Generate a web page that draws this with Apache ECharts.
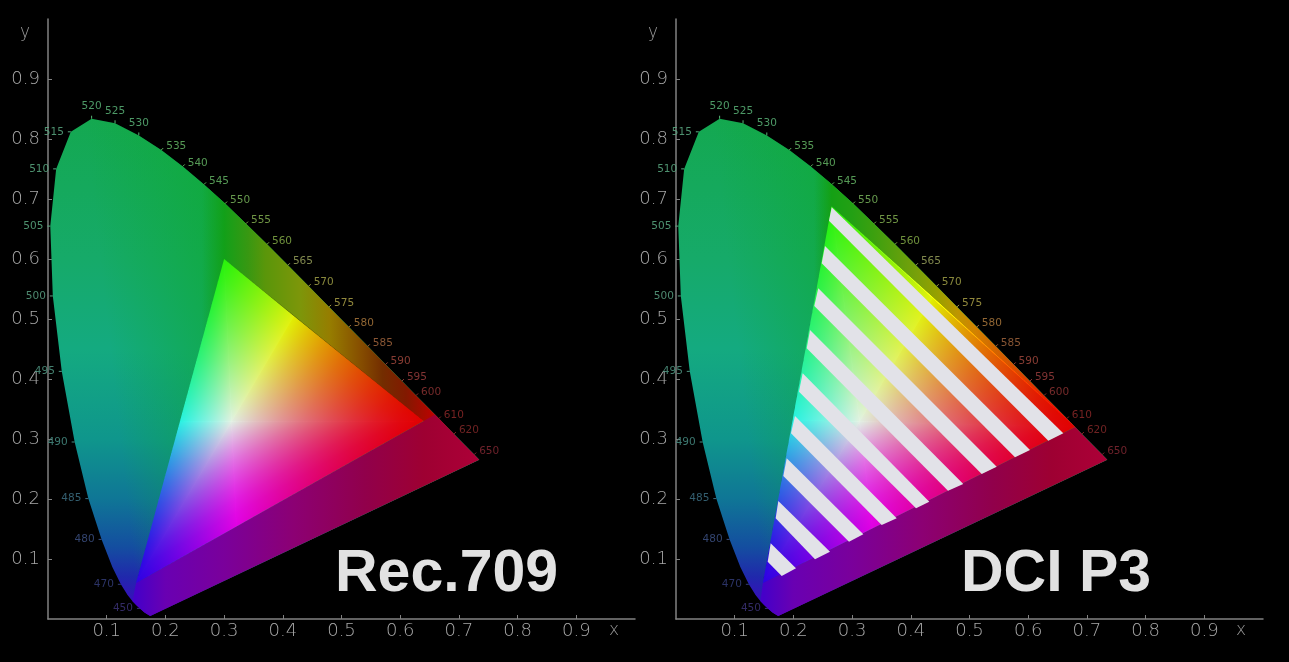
<!DOCTYPE html>
<html><head><meta charset="utf-8">
<style>html,body{margin:0;padding:0;background:#000}#c{width:1289px;height:662px}</style>
<script src="https://cdn.jsdelivr.net/npm/echarts@6/dist/echarts.min.js"></script>
</head><body><div id="c"></div>
<script>
// ---- spectral locus
const locusNm=[440,450,455,460,465,470,475,480,485,490,495,500,505,510,515,520,525,530,535,540,545,550,555,560,565,570,575,580,585,590,595,600,605,610,615,620,650,700];
const locusX=[.1644,.1566,.1510,.1440,.1355,.1241,.1096,.0913,.0687,.0454,.0235,.0082,.0039,.0139,.0389,.0743,.1142,.1547,.1929,.2296,.2658,.3016,.3373,.3731,.4087,.4441,.4788,.5125,.5448,.5752,.6029,.6270,.6482,.6658,.6801,.6915,.7260,.7347];
const locusY=[.0109,.0177,.0227,.0297,.0399,.0578,.0868,.1327,.2007,.2950,.4127,.5384,.6548,.7502,.8120,.8338,.8262,.8059,.7816,.7543,.7243,.6923,.6589,.6245,.5896,.5547,.5202,.4866,.4544,.4242,.3965,.3725,.3516,.3340,.3197,.3083,.2740,.2653];
const purpleEnd=[.1741,.0050];
const labeledNm=[450,470,480,485,490,495,500,505,510,515,520,525,530,535,540,545,550,555,560,565,570,575,580,585,590,595,600,610,620,650];
const labelColors=['#3c3278','#323c78','#3c5082','#3c6e82','#468c82','#509682','#5aa082','#5aaa82','#5aaa82','#5aaa82','#5ab478','#5ab478','#5ab478','#64b464','#64b464','#64b464','#78b45a','#82af50','#82aa46','#96a05a','#a0a046','#aaa046','#aa783c','#a0643c','#a0463c','#963c3c','#8c3232','#8c2828','#822828','#822832'];
// ---- gamut triangles: R, G, B primaries then yellow, cyan, magenta edge points
const rec709X=[.64,.30,.15], rec709Y=[.33,.60,.06];
const recMixX=[.419,.2245,.321], recMixY=[.505,.3284,.1542];
const p3X=[.68,.265,.148], p3Y=[.32,.688,.06];
const p3MixX=[.4376,.1985,.335], p3MixY=[.536,.331,.1514];
const whitePoint=[.3127,.329];
const primaries=[[225,0,0],[40,242,10],[45,0,228]];
const mixColors=[[225,238,0],[42,240,226],[225,0,228]];
const whiteColor=[225,238,226];
const channelPower=[1.1,1.6,1.3];
// ---- white stripes of the DCI P3 panel: upper-left, right end, lower end, lower-left
const stripeRows=[
[.2652,.6862,.6598,.3095,.6343,.2972,.2606,.6638],
[.2538,.6217,.6031,.2817,.5775,.2695,.2482,.5928],
[.2424,.5512,.5463,.2538,.5208,.2417,.2356,.5217],
[.2283,.4817,.4894,.2250,.4634,.2138,.2227,.4512],
[.2158,.4095,.4315,.1955,.4089,.1845,.2095,.3788],
[.2027,.3383,.3760,.1678,.3504,.1567,.1959,.3095],
[.1886,.2678,.3191,.1412,.2947,.1288,.1828,.2383],
[.1743,.1967,.2624,.1122,.2368,.0995,.1698,.1678],
[.1613,.1262,.2044,.0845,.1801,.0717,.1562,.0955]];
// ---- colours seen along the regions
const leftY=[.84,.6,.45,.3,.2,.12,.07,.02];
const leftC=['rgb(20,168,80)','rgb(22,170,105)','rgb(20,170,128)','rgb(15,150,140)','rgb(15,118,150)','rgb(20,78,160)','rgb(32,40,172)','rgb(62,8,192)'];
const bandRecX=[.262,.30,.34,.37,.43,.48,.53,.57,.61,.65,.67];
const bandRecC=['rgba(16,160,30,0)','rgb(18,160,25)','rgb(55,152,18)','rgb(90,150,10)','rgb(125,150,10)','rgb(150,125,0)','rgb(135,80,0)','rgb(115,45,0)','rgb(130,25,0)','rgb(180,5,0)','rgb(200,0,0)'];
const bandP3X=[.235,.265,.30,.337,.41,.444,.48,.51,.545,.60,.645,.68];
const bandP3C=['rgba(16,160,30,0)','rgb(20,160,20)','rgb(35,160,20)','rgb(60,160,15)','rgb(120,160,10)','rgb(150,160,0)','rgb(190,150,0)','rgb(210,130,0)','rgb(210,100,0)','rgb(220,60,0)','rgb(230,20,0)','rgb(240,0,0)'];
const purpleX=[.15,.2,.3,.42,.54,.64,.73];
const purpleC=['rgb(70,0,200)','rgb(105,0,178)','rgb(122,0,155)','rgb(140,0,115)','rgb(145,0,75)','rgb(158,0,50)','rgb(172,0,55)'];
const xTicks=[.1,.2,.3,.4,.5,.6,.7,.8,.9];

function span(stops,vals,a,b){const d=b-a;return stops.map((s,i)=>({offset:Math.min(1,Math.max(0,(s-a)/d)),color:vals[i]}));}
function locusPts(api,from,to){const o=[];locusNm.forEach((n,i)=>{if(n>=from&&n<=to)o.push(api.coord([locusX[i],locusY[i]]));});return o;}
function foot(p,a,b){const dx=b[0]-a[0],dy=b[1]-a[1],t=((p[0]-a[0])*dx+(p[1]-a[1])*dy)/(dx*dx+dy*dy);return[a[0]+t*dx,a[1]+t*dy];}
function poly(points,fill){return{type:'polygon',shape:{points},style:{fill},silent:true};}

function gamutItem(triX,triY,bandX,bandC,bandFrom,bandEdge,cut){
 return function(params,api){
  const c=(x,y)=>api.coord([x,y]);
  const all=locusPts(api,440,700).concat([c(purpleEnd[0],purpleEnd[1])]);
  const kids=[];
  const top=c(0,leftY[0])[1],bot=c(0,leftY[leftY.length-1])[1];
  const leftStops=leftY.map((y,i)=>({offset:(c(0,y)[1]-top)/(bot-top),color:leftC[i]}));
  kids.push(poly(all,{type:'linear',x:0,y:top,x2:0,y2:bot,colorStops:leftStops,global:true}));
  const tri=triX.map((x,i)=>c(x,triY[i]));
  const A=c(.15,.06),C=c(.06,.85),f=foot(c(.3,.6),A,C),g=c(.3,.6);
  kids.push(poly(all,{type:'linear',x:f[0],y:f[1],x2:g[0],y2:g[1],global:true,colorStops:[{offset:0,color:'rgba(15,170,50,0)'},{offset:1,color:'rgba(15,170,50,.7)'}]}));
  const x0=c(bandX[0],0)[0],x1=c(bandX[bandX.length-1],0)[0];
  const band=[c(bandEdge[0],bandEdge[1])].concat(locusPts(api,bandFrom,620)).concat([tri[0]]);
  kids.push(poly(band,{type:'linear',x:x0,y:0,x2:x1,y2:0,global:true,colorStops:span(bandX,bandC,bandX[0],bandX[bandX.length-1])}));
  const xa=c(purpleX[0],0)[0],xb=c(purpleX[purpleX.length-1],0)[0];
  const pur=[tri[2],tri[0],c(cut[0],cut[1])].concat(locusPts(api,620,700)).concat([c(purpleEnd[0],purpleEnd[1])]).concat(locusPts(api,440,460));
  kids.push(poly(pur,{type:'linear',x:xa,y:0,x2:xb,y2:0,global:true,colorStops:span(purpleX,purpleC,purpleX[0],purpleX[purpleX.length-1])}));
  kids.push(poly(tri,'#000'));
  return{type:'group',children:kids};
 };
}
const rampT=[0,.125,.25,.375,.5,.625,.75,.875,1];
function ramp(chan,amp,from,to){
 const stops=rampT.map(t=>{const v=[0,0,0];v[chan]=Math.round(Math.max(0,amp)*Math.pow(t,channelPower[chan]));return{offset:t,color:`rgb(${v[0]},${v[1]},${v[2]})`};});
 return{type:'linear',x:from[0],y:from[1],x2:to[0],y2:to[1],global:true,colorStops:stops};
}
// primary index, mix index, second channel, third channel
const sextants=[[0,0,1,2],[1,0,0,2],[1,1,2,0],[2,1,1,0],[2,2,0,1],[0,2,2,1]];
function additiveItem(triX,triY,mixX,mixY){
 return function(params,api){
  const tri=triX.map((x,i)=>api.coord([x,triY[i]])),mix=mixX.map((x,i)=>api.coord([x,mixY[i]])),W=api.coord(whitePoint);
  const kids=[];
  sextants.forEach(([pi,si,q,t])=>{
   const P=tri[pi],S=mix[si],pts=[P,S,W],pc=primaries[pi],sc=mixColors[si];
   kids.push(poly(pts,`rgb(${pc[0]},${pc[1]},${pc[2]})`));
   kids.push(poly(pts,ramp(q,sc[q]-pc[q],P,foot(P,S,W))));
   kids.push(poly(pts,ramp(t,whiteColor[t]-pc[t],foot(W,P,S),W)));
  });
  return{type:'group',children:kids};
 };
}
function labelItem(params,api){
 const nm=api.value(2),p=api.coord([api.value(0),api.value(1)]),col=labelColors[labeledNm.indexOf(nm)];
 let dx,dy,tx,ty;
 if(nm<=515){dx=-17;dy=0;tx=-3;ty=0;}
 else if(nm<=530){dx=0;dy=-12;tx=0;ty=-3;}
 else{dx=15;dy=-3.5;tx=2;ty=-2;}
 return{type:'group',children:[
  {type:'line',shape:{x1:p[0],y1:p[1],x2:p[0]+tx,y2:p[1]+ty},style:{stroke:col,lineWidth:1},silent:true},
  {type:'text',style:{text:String(nm),x:p[0]+dx,y:p[1]+dy,fill:col,opacity:.85,font:'10.5px "DejaVu Sans"',align:'center',verticalAlign:'middle'},silent:true}
 ]};
}
function stripeItem(params,api){
 const pts=[0,2,4,6].map(i=>api.coord([api.value(i),api.value(i+1)]));
 return{type:'polygon',shape:{points:pts},style:{fill:'rgb(226,226,232)'},silent:true};
}
const labelRows=labeledNm.map(n=>{const i=locusNm.indexOf(n);return[locusX[i],locusY[i],n];});
function axis(grid,margin){return{type:'value',gridIndex:grid,min:0,max:1,interval:.1,splitLine:{show:false},
 axisLine:{onZero:false,lineStyle:{color:'#828282',width:1.5}},
 axisTick:{inside:true,length:4,customValues:xTicks,lineStyle:{color:'#828282',width:1}},
 axisLabel:{color:'#a8a8a8',fontFamily:'"DejaVu Sans"',fontWeight:200,fontSize:18,margin,customValues:xTicks,formatter:v=>v.toFixed(1)}};}
const lab=(t,x,y)=>({type:'text',left:x,top:y,silent:true,style:{text:t,fill:'#989898',font:'200 17px "DejaVu Sans"'}});
const titleStyle={color:'#e2e2e2',fontFamily:'"Liberation Sans"',fontWeight:'bold',fontSize:59};
const opt={
 animation:false,backgroundColor:'#000',
 title:[{text:'Rec.709',left:335,top:545,padding:0,textStyle:titleStyle},{text:'DCI P3',left:961,top:545,padding:0,textStyle:titleStyle}],
 grid:[{left:48,top:19,width:587,height:600},{left:676,top:19,width:587,height:600}],
 xAxis:[axis(0,3),axis(1,3)],
 yAxis:[axis(0,8),axis(1,8)],
 graphic:[lab('x',609,622),lab('y',20,24),lab('x',1236,622),lab('y',648,24)],
 series:[
  {type:'custom',name:'Rec.709 regions',xAxisIndex:0,yAxisIndex:0,clip:false,data:[[.3,.3]],renderItem:gamutItem(rec709X,rec709Y,bandRecX,bandRecC,540,[.262,.463],[.659,.341])},
  {type:'custom',name:'Rec.709 gamut',xAxisIndex:0,yAxisIndex:0,clip:false,blendMode:'lighter',data:[[.3,.3]],renderItem:additiveItem(rec709X,rec709Y,recMixX,recMixY)},
  {type:'custom',name:'Rec.709 wavelengths',xAxisIndex:0,yAxisIndex:0,clip:false,data:labelRows,renderItem:labelItem},
  {type:'custom',name:'DCI P3 regions',xAxisIndex:1,yAxisIndex:1,clip:false,data:[[.3,.3]],renderItem:gamutItem(p3X,p3Y,bandP3X,bandP3C,535,[.235,.43],[.68,.32])},
  {type:'custom',name:'DCI P3 gamut',xAxisIndex:1,yAxisIndex:1,clip:false,blendMode:'lighter',data:[[.3,.3]],renderItem:additiveItem(p3X,p3Y,p3MixX,p3MixY)},
  {type:'custom',name:'DCI P3 stripes',xAxisIndex:1,yAxisIndex:1,clip:false,data:stripeRows,renderItem:stripeItem},
  {type:'custom',name:'DCI P3 wavelengths',xAxisIndex:1,yAxisIndex:1,clip:false,data:labelRows,renderItem:labelItem}
 ]};
echarts.init(document.getElementById('c'),null,{renderer:'canvas'}).setOption(opt);
</script></body></html>
